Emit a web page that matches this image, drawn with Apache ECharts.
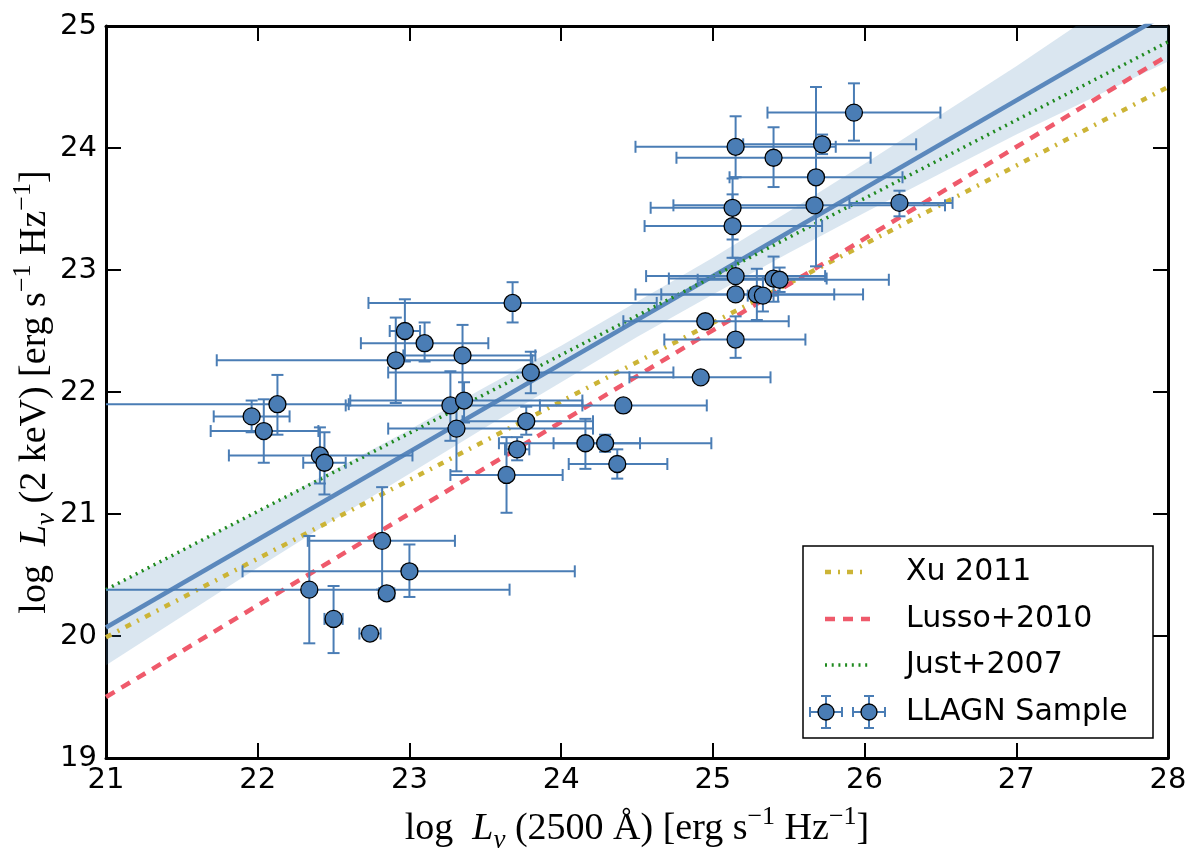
<!DOCTYPE html>
<html><head><meta charset="utf-8">
<script src="https://cdn.jsdelivr.net/npm/echarts@6.0.0/dist/echarts.min.js"></script>
<style>html,body{margin:0;padding:0;background:#fff}#c{width:1200px;height:859px}</style>
</head><body><div id="c"></div>
<script>
// ---- data ----
const xTicks = [21, 22, 23, 24, 25, 26, 27, 28];
const yTicks = [19, 20, 21, 22, 23, 24, 25];

// LLAGN sample: centres and error-bar bounds
const ptX  = [21.96,22.04,22.13,22.41,22.44,22.34,22.50,22.74,22.82,22.85,23.00,22.91,22.97,23.10,23.27,23.31,23.35,23.36,23.64,23.68,23.71,23.77,23.80,24.16,24.29,24.37,24.41,24.92,24.95,25.15,25.15,25.15,25.13,25.13,25.15,25.29,25.33,25.40,25.44,25.40,25.67,25.68,25.72,25.93,26.23];
const ptY  = [21.80,21.68,21.90,21.48,21.42,20.38,20.14,20.02,20.78,20.35,20.53,22.26,22.50,22.40,21.89,21.70,22.30,21.93,21.32,22.73,21.53,21.76,22.16,21.58,21.58,21.41,21.89,22.12,22.58,22.43,22.80,22.95,23.36,23.51,24.01,22.80,22.79,22.93,22.92,23.92,23.53,23.76,24.03,24.29,23.55];
const xLo  = [21.71,21.69,20.70,21.81,22.30,20.80,22.44,22.67,22.33,22.80,21.90,21.73,22.87,22.68,22.58,22.86,22.96,22.61,23.27,22.73,23.63,23.35,22.86,23.59,23.95,24.05,23.86,24.45,24.41,24.68,24.49,24.56,24.55,24.59,24.49,24.66,25.23,24.71,24.90,24.76,24.74,25.11,25.20,25.36,25.90];
const xHi  = [22.21,22.40,22.60,23.02,22.58,23.66,22.56,22.81,23.30,22.90,24.09,23.81,23.07,23.52,24.14,24.21,23.83,24.14,24.01,24.63,23.79,24.21,24.74,24.52,24.99,24.70,24.96,25.38,25.50,25.61,25.80,25.74,25.72,25.70,25.81,25.99,25.43,25.75,26.16,26.04,26.53,26.25,26.34,26.50,26.58];
const yLo  = [21.67,21.42,21.65,21.25,21.16,19.94,19.86,19.99,20.38,20.30,20.32,21.91,22.25,22.25,21.60,21.35,21.95,21.75,21.01,22.57,21.44,21.65,21.99,21.37,21.51,21.29,21.86,22.09,22.54,22.28,22.75,22.80,23.10,23.25,23.76,22.59,22.66,22.74,22.82,23.68,23.48,23.03,23.95,24.06,23.44];
const yHi  = [21.93,21.94,22.14,21.71,21.67,20.82,20.41,20.05,21.22,20.40,20.75,22.61,22.76,22.57,22.17,21.90,22.55,22.08,21.63,22.90,21.63,21.88,22.33,21.78,21.65,21.53,21.92,22.15,22.62,22.62,22.85,23.10,23.62,23.75,24.26,23.01,22.95,23.11,23.02,24.17,23.58,24.50,24.11,24.53,23.65];

// best-fit line and its confidence band
const fitX = [21, 28];
const fitY = [20.07, 25.11];
const bandX     = [21, 21.5, 22, 22.5, 23, 23.5, 24, 24.5, 25, 25.5, 26, 26.5, 27, 27.5, 28];
const bandLower = [19.76, 20.16, 20.56, 20.95, 21.33, 21.71, 22.08, 22.45, 22.80, 23.14, 23.47, 23.79, 24.11, 24.41, 24.71];
const bandUpper = [20.38, 20.70, 21.02, 21.36, 21.69, 22.04, 22.38, 22.74, 23.10, 23.48, 23.87, 24.27, 24.67, 25.09, 25.51];

// literature relations
const relX   = [21, 28];
const xuY    = [19.99, 24.50];
const lussoY = [19.50, 24.76];
const justY  = [20.38, 24.87];

const legendNames = ['Xu 2011', 'Lusso+2010', 'Just+2007', 'LLAGN Sample'];

// ---- styling ----
const C_PT = '#4a7db5', C_FIT = '#5b88bc', C_BAND = 'rgba(70,130,180,0.2)';
const C_XU = '#ccb436', C_LU = '#ef5a6b', C_JU = '#1f8a1f';
const serif = 'Liberation Serif';

const pts = ptX.map((x, i) => [x, ptY[i], xLo[i], xHi[i], yLo[i], yHi[i]]);
const pairs = (xs, ys) => xs.map((x, i) => [x, ys[i]]);
const bandData = bandX.map((x, i) => [x, bandLower[i], bandUpper[i]]);

const richName = {
  n: {fontFamily: serif, fontSize: 38, lineHeight: 50, color: '#000'},
  i: {fontFamily: serif, fontSize: 38, lineHeight: 50, fontStyle: 'italic', color: '#000'},
  sub: {fontFamily: serif, fontSize: 27, lineHeight: 36, fontStyle: 'italic', verticalAlign: 'bottom', color: '#000'},
  sup: {fontFamily: serif, fontSize: 26, lineHeight: 26, verticalAlign: 'top', color: '#000'}
};

const axisCommon = {
  type: 'value', splitLine: {show: false},
  axisLine: {show: true, onZero: false, lineStyle: {color: '#000', width: 3}},
  axisTick: {show: true, inside: true, length: 15, lineStyle: {color: '#000', width: 2}}
};
const tickLabel = {fontSize: 29, color: '#000', fontFamily: 'DejaVu Sans'};

const chart = echarts.init(document.getElementById('c'), null, {renderer: 'canvas'});

const legX = 803, legY = 546;
const legRows = [572, 619, 665, 712];
const graphic = [
  {type: 'rect', z: 100, shape: {x: legX, y: legY, width: 350, height: 192}, style: {fill: '#fff', stroke: '#000', lineWidth: 1.5}},
  {type: 'line', z: 101, shape: {x1: 825, y1: legRows[0], x2: 866, y2: legRows[0]}, style: {stroke: C_XU, lineWidth: 4.5, lineDash: [6, 7, 2, 7]}},
  {type: 'line', z: 101, shape: {x1: 825, y1: legRows[1], x2: 870, y2: legRows[1]}, style: {stroke: C_LU, lineWidth: 4.5, lineDash: [10, 8]}},
  {type: 'line', z: 101, shape: {x1: 825, y1: legRows[2], x2: 868, y2: legRows[2]}, style: {stroke: C_JU, lineWidth: 3.5, lineDash: [2, 4.7]}}
];
[826, 869].forEach(cx => {
  const cy = legRows[3], s = {stroke: C_PT, lineWidth: 2};
  graphic.push({type: 'line', z: 101, shape: {x1: cx - 16, y1: cy, x2: cx + 16, y2: cy}, style: s});
  graphic.push({type: 'line', z: 101, shape: {x1: cx, y1: cy - 16, x2: cx, y2: cy + 16}, style: s});
  graphic.push({type: 'line', z: 101, shape: {x1: cx - 16, y1: cy - 5, x2: cx - 16, y2: cy + 5}, style: s});
  graphic.push({type: 'line', z: 101, shape: {x1: cx + 16, y1: cy - 5, x2: cx + 16, y2: cy + 5}, style: s});
  graphic.push({type: 'line', z: 101, shape: {x1: cx - 5, y1: cy - 16, x2: cx + 5, y2: cy - 16}, style: s});
  graphic.push({type: 'line', z: 101, shape: {x1: cx - 5, y1: cy + 16, x2: cx + 5, y2: cy + 16}, style: s});
  graphic.push({type: 'circle', z: 102, shape: {cx: cx, cy: cy, r: 8}, style: {fill: C_PT, stroke: '#000', lineWidth: 1.3}});
});
legendNames.forEach((t, k) => {
  graphic.push({type: 'text', z: 103, x: 906, y: legRows[k],
    style: {text: t, fill: '#000', fontSize: 30, fontFamily: 'DejaVu Sans', verticalAlign: 'middle', textVerticalAlign: 'middle', align: 'left'}});
});

chart.setOption({
  animation: false,
  backgroundColor: '#fff',
  grid: {left: 106, right: 32, top: 26, bottom: 101, containLabel: false, outerBoundsMode: 'none'},
  xAxis: [
    Object.assign({}, axisCommon, {
      min: xTicks[0], max: xTicks[xTicks.length - 1], interval: 1, position: 'bottom',
      axisLabel: Object.assign({margin: 8}, tickLabel),
      name: '{n|log  }{i|L}{sub|ν}{n| (2500 Å) [erg s}{sup|−1}{n| Hz}{sup|−1}{n|]}',
      nameLocation: 'middle', nameGap: 46, nameMoveOverlap: false, nameTextStyle: {rich: richName}
    }),
    Object.assign({}, axisCommon, {
      min: xTicks[0], max: xTicks[xTicks.length - 1], interval: 1, position: 'top', axisLabel: {show: false}
    })
  ],
  yAxis: [
    Object.assign({}, axisCommon, {
      min: yTicks[0], max: yTicks[yTicks.length - 1], interval: 1, position: 'left',
      axisLabel: Object.assign({margin: 9}, tickLabel),
      name: '{n|log  }{i|L}{sub|ν}{n| (2 keV) [erg s}{sup|−1}{n| Hz}{sup|−1}{n|]}',
      nameLocation: 'middle', nameGap: 46, nameMoveOverlap: false, nameTextStyle: {rich: richName}
    }),
    Object.assign({}, axisCommon, {
      min: yTicks[0], max: yTicks[yTicks.length - 1], interval: 1, position: 'right', axisLabel: {show: false}
    })
  ],
  graphic: graphic,
  series: [
    {type: 'custom', name: 'band', data: bandData, clip: true, z: 1, silent: true,
     encode: {x: 0, y: [1, 2]},
     renderItem: function (params, api) {
       if (params.dataIndex !== 0) return null;
       const lower = bandData.map(d => api.coord([d[0], d[1]]));
       const upper = bandData.map(d => api.coord([d[0], d[2]])).reverse();
       return {type: 'polygon', shape: {points: lower.concat(upper)}, style: {fill: C_BAND, stroke: null}};
     }},
    {type: 'line', name: 'fit', data: pairs(fitX, fitY), symbol: 'none', lineStyle: {color: C_FIT, width: 4.5}, z: 3},
    {type: 'line', name: legendNames[0], data: pairs(relX, xuY), symbol: 'none', lineStyle: {color: C_XU, width: 4.5, type: [6, 7, 2, 7], cap: 'butt'}, z: 3},
    {type: 'line', name: legendNames[1], data: pairs(relX, lussoY), symbol: 'none', lineStyle: {color: C_LU, width: 4.5, type: [10, 8], cap: 'butt'}, z: 3},
    {type: 'line', name: legendNames[2], data: pairs(relX, justY), symbol: 'none', lineStyle: {color: C_JU, width: 3.5, type: [2, 4.7], cap: 'butt'}, z: 3},
    {type: 'custom', name: 'errors', data: pts, clip: true, z: 4, silent: true,
     encode: {x: 0, y: 1},
     renderItem: function (params, api) {
       const x = api.value(0), y = api.value(1);
       const L = api.coord([api.value(2), y]), R = api.coord([api.value(3), y]);
       const B = api.coord([x, api.value(4)]), T = api.coord([x, api.value(5)]);
       const c = 6, st = {stroke: C_PT, lineWidth: 2, fill: null};
       const seg = (x1, y1, x2, y2) => ({type: 'line', shape: {x1, y1, x2, y2}, style: st});
       return {type: 'group', children: [
         seg(L[0], L[1], R[0], R[1]),
         seg(L[0], L[1] - c, L[0], L[1] + c),
         seg(R[0], R[1] - c, R[0], R[1] + c),
         seg(T[0], T[1], B[0], B[1]),
         seg(T[0] - c, T[1], T[0] + c, T[1]),
         seg(B[0] - c, B[1], B[0] + c, B[1])
       ]};
     }},
    {type: 'scatter', name: legendNames[3], data: pairs(ptX, ptY), symbol: 'circle', symbolSize: 17, z: 5,
     itemStyle: {color: C_PT, borderColor: '#000', borderWidth: 1.3, opacity: 1}}
  ]
});
</script></body></html>
